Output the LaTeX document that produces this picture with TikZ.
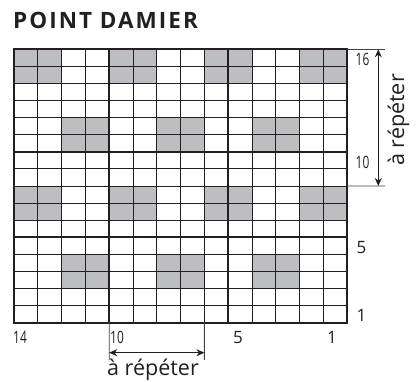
\documentclass[tikz,border=0pt]{standalone}
\usepackage{fontspec}
\setmainfont{Open Sans}
\newfontfamily\titlefont[LetterSpace=9]{Open Sans}
\usetikzlibrary{arrows.meta}
\definecolor{cellgrey}{HTML}{BDBEC1}
\definecolor{ink}{HTML}{231F20}
\newcommand{\narrownum}[1]{\scalebox{0.7}[1]{#1}}
\begin{document}
\begin{tikzpicture}[x=1pt,y=-1pt,
  gridline/.style={draw=ink,line width=0.9pt},
  majorline/.style={draw=ink,line width=1.8pt},
  borderline/.style={draw=ink,line width=2.2pt},
  extline/.style={draw=ink!85,line width=0.9pt},
  dimarrow/.style={draw=ink,line width=1pt,{Stealth[length=8pt,width=7pt]}-{Stealth[length=8pt,width=7pt]}},
  numlabel/.style={font=\fontsize{17}{19}\selectfont,text=ink,inner sep=0pt},
  replabel/.style={font=\fontsize{21.5}{24}\selectfont,text=ink,inner sep=0pt},
  titlelabel/.style={font=\titlefont\fontsize{22.5}{25}\selectfont\bfseries,text=ink,inner sep=0pt}]
\useasboundingbox (0,0) rectangle (416,382);
\node[titlelabel,anchor=base west] (title) at (13,28.4) {POINT DAMIER};
\begin{scope}[shift={(14,49.3)},x=23.8pt,y=-17.09pt]
  \foreach \r in {0,1,8,9} \foreach \c in {0,4,8,12} \fill[cellgrey] (\c,\r) rectangle ++(2,1);
  \foreach \r in {4,5,12,13} \foreach \c in {2,6,10} \fill[cellgrey] (\c,\r) rectangle ++(2,1);
  \foreach \c in {1,...,13} \draw[gridline] (\c,0) -- (\c,16);
  \foreach \r in {1,...,15} \draw[gridline] (0,\r) -- (14,\r);
  \draw[majorline] (4,0) -- (4,16) (9,0) -- (9,16) (0,6) -- (14,6) (0,11) -- (14,11);
  \draw[borderline] (0,0) rectangle (14,16);
  \coordinate (gTR) at (14,0);
  \coordinate (gR9) at (14,8);
  \coordinate (gB4) at (4,16);
  \coordinate (gB8) at (8,16);
\end{scope}
% right repeat
\coordinate (eTop) at (385,49.3);
\coordinate (eBot) at (385,186.0);
\draw[extline] (gTR) -- (eTop);
\draw[extline] (gR9) -- (eBot);
\coordinate (aTop) at (378.3,49.3);
\coordinate (aBot) at (378.3,186.0);
\draw[dimarrow] (aTop) -- (aBot);
\node[replabel,rotate=90,anchor=base] (repR) at (404,120) {à répéter};
% bottom repeat
\coordinate (eL) at (109.2,360);
\coordinate (eR) at (204.4,360);
\draw[extline] (gB4) -- (eL);
\draw[extline] (gB8) -- (eR);
\coordinate (aL) at (109.2,352.7);
\coordinate (aR) at (204.4,352.7);
\draw[dimarrow] (aL) -- (aR);
\node[replabel,anchor=base] (repB) at (153,375.5) {à répéter};
% row labels
\node[numlabel,anchor=west] (r16) at (355.5,59) {\narrownum{16}};
\node[numlabel,anchor=west] (r10) at (355.5,162.5) {\narrownum{10}};
\node[numlabel,anchor=west] (r5) at (356.5,247.5) {5};
\node[numlabel,anchor=west] (r1) at (356.5,315) {1};
% column labels
\node[numlabel,anchor=west] (c14) at (13,337.5) {\narrownum{14}};
\node[numlabel,anchor=west] (c10) at (110,337.5) {\narrownum{10}};
\node[numlabel] (c5) at (238,337.5) {5};
\node[numlabel] (c1) at (332,337.5) {1};
\end{tikzpicture}
\end{document}
